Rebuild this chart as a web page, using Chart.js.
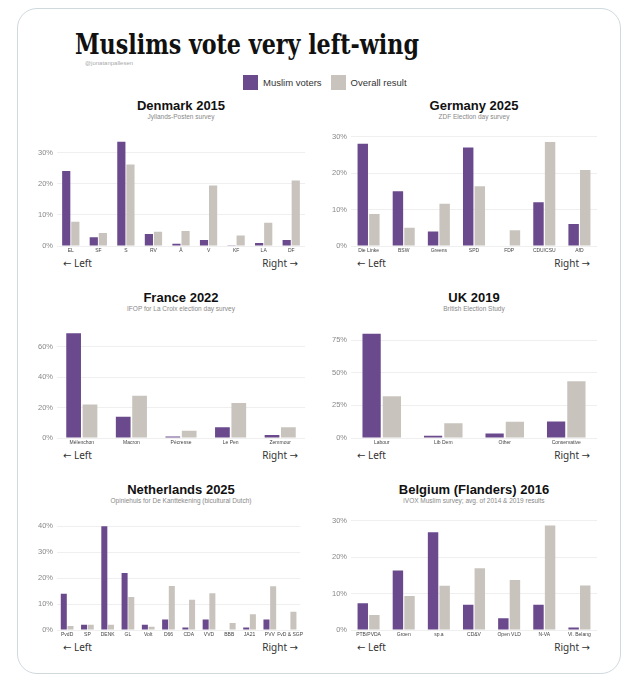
<!DOCTYPE html>
<html lang="en">
<head>
    <meta charset="UTF-8">
    <title>Muslims vote very left-wing</title>
    <script src="https://cdn.jsdelivr.net/npm/chart.js"></script>
    <style>
        body {
            margin: 0;
            width: 630px;
            height: 678px;
            background: #fff;
            font-family: "Liberation Sans", Arial, sans-serif;
            position: relative;
            overflow: hidden;
        }
        .frame {
            position: absolute;
            left: 17px;
            top: 8px;
            width: 602px;
            height: 664px;
            border: 1px solid #cfd9de;
            border-radius: 20px;
        }
        .main-title {
            position: absolute;
            left: 75px;
            top: 30px;
            font-family: "DejaVu Serif", serif;
            font-weight: bold;
            font-size: 27px;
            line-height: 30px;
            color: #111;
            white-space: nowrap;
            transform-origin: 0 0;
        }
        .handle {
            position: absolute;
            left: 85px;
            top: 59px;
            font-size: 6px;
            line-height: 8px;
            color: #aaa;
        }
        .legend {
            position: absolute;
            top: 75px;
            left: 243px;
            display: flex;
            align-items: center;
            font-size: 9.5px;
            color: #333;
        }
        .legend .sw {
            width: 15px;
            height: 15px;
            margin-right: 5px;
        }
        .legend .item {
            display: flex;
            align-items: center;
            margin-right: 9px;
        }
        .p-title {
            position: absolute;
            text-align: center;
            font-weight: bold;
            font-size: 13px;
            line-height: 15px;
            color: #111;
            white-space: nowrap;
        }
        .p-sub {
            position: absolute;
            text-align: center;
            font-size: 6.5px;
            line-height: 8px;
            color: #888;
            white-space: nowrap;
        }
        .p-chart {
            position: absolute;
        }
        .p-dir {
            position: absolute;
            display: flex;
            justify-content: space-between;
            font-family: "Noto Sans", "DejaVu Sans", sans-serif;
            font-size: 10px;
            line-height: 12px;
            color: #333;
        }
    </style>
</head>
<body>
    <div class="frame"></div>
    <div class="main-title" id="mainTitle">Muslims vote very left-wing</div>
    <div class="handle">@jonatanpallesen</div>
    <div class="legend">
        <div class="item"><div class="sw" style="background:#6a4a8c"></div>Muslim voters</div>
        <div class="item"><div class="sw" style="background:#c8c3bd"></div>Overall result</div>
    </div>
    <div id="panels"></div>

    <script>
        // Denmark 2015
        const dkParties = ['EL', 'SF', 'S', 'RV', 'Å', 'V', 'KF', 'LA', 'DF'];
        const dkMuslim = [24.2, 2.8, 33.6, 3.9, 0.7, 1.9, 0.1, 1.0, 1.9];
        const dkOverall = [7.8, 4.2, 26.3, 4.6, 4.8, 19.5, 3.4, 7.5, 21.1];

        // Germany 2025
        const deParties = ['Die Linke', 'BSW', 'Greens', 'SPD', 'FDP', 'CDU/CSU', 'AfD'];
        const deMuslim = [28, 15, 4, 27, 0, 12, 6];
        const deOverall = [8.8, 5.0, 11.6, 16.4, 4.3, 28.5, 20.8];

        // France 2022
        const frCandidates = ['Mélenchon', 'Macron', 'Pécresse', 'Le Pen', 'Zemmour'];
        const frMuslim = [69, 14, 1, 7, 2];
        const frOverall = [22.0, 27.8, 4.8, 23.1, 7.0];

        // UK 2019
        const ukParties = ['Labour', 'Lib Dem', 'Other', 'Conservative'];
        const ukMuslim = [80, 1.7, 3.5, 12.7];
        const ukOverall = [32.1, 11.4, 12.5, 43.6];

        // Netherlands 2025
        const nlParties = ['PvdD', 'SP', 'DENK', 'GL', 'Volt', 'D66', 'CDA', 'VVD', 'BBB', 'JA21', 'PVV', 'FvD & SGP'];
        const nlMuslim = [14, 2, 40, 22, 2, 4, 1, 4, 0, 1, 4, 0];
        const nlOverall = [1.5, 2.0, 2.0, 12.7, 1.3, 17.0, 11.7, 14.2, 2.7, 6.1, 16.9, 7.0];

        // Belgium (Flanders) 2016
        const beParties = ['PTB/PVDA', 'Groen', 'sp.a', 'CD&V', 'Open VLD', 'N-VA', 'Vl. Belang'];
        const beMuslim = [7.3, 16.3, 26.8, 6.9, 3.2, 6.9, 0.7];
        const beOverall = [4.1, 9.3, 12.1, 16.9, 13.7, 28.6, 12.2];

        const PURPLE = '#6a4a8c';
        const GREY = '#c8c3bd';

        // squeeze the serif headline to the reference width
        const mt = document.getElementById('mainTitle');
        mt.style.transform = 'scaleX(' + (344 / mt.getBoundingClientRect().width) + ')';

        const panels = [
            { title: 'Denmark 2015', sub: 'Jyllands-Posten survey', labels: dkParties, muslim: dkMuslim, overall: dkOverall, max: 35.3, step: 10, col: 0, row: 0 },
            { title: 'Germany 2025', sub: 'ZDF Election day survey', labels: deParties, muslim: deMuslim, overall: deOverall, max: 30, step: 10, col: 1, row: 0 },
            { title: 'France 2022', sub: 'IFOP for La Croix election day survey', labels: frCandidates, muslim: frMuslim, overall: frOverall, max: 72.1, step: 20, col: 0, row: 1 },
            { title: 'UK 2019', sub: 'British Election Study', labels: ukParties, muslim: ukMuslim, overall: ukOverall, max: 84, step: 25, col: 1, row: 1 },
            { title: 'Netherlands 2025', sub: 'Opiniehuis for De Kanttekening (bicultural Dutch)', labels: nlParties, muslim: nlMuslim, overall: nlOverall, max: 42.2, step: 10, col: 0, row: 2 },
            { title: 'Belgium (Flanders) 2016', sub: 'iVOX Muslim survey; avg. of 2014 & 2019 results', labels: beParties, muslim: beMuslim, overall: beOverall, max: 30, step: 10, col: 1, row: 2 }
        ];

        // plot area geometry
        const colLeft = [57, 351];
        const colRight = [305, 597];
        const rowTop = [133, 325, 517];
        const plotH = 113;
        const axisW = 32;

        const holder = document.getElementById('panels');

        panels.forEach(function(p) {
            const L = colLeft[p.col], R = colRight[p.col], T = rowTop[p.row];

            const t = document.createElement('div');
            t.className = 'p-title';
            t.style.left = L + 'px';
            t.style.width = (R - L) + 'px';
            t.style.top = (T - 35) + 'px';
            t.textContent = p.title;
            holder.appendChild(t);

            const s = document.createElement('div');
            s.className = 'p-sub';
            s.style.left = L + 'px';
            s.style.width = (R - L) + 'px';
            s.style.top = (T - 20) + 'px';
            s.textContent = p.sub;
            holder.appendChild(s);

            const wrap = document.createElement('div');
            wrap.className = 'p-chart';
            wrap.style.left = (L - axisW) + 'px';
            wrap.style.top = (T - 5) + 'px';
            wrap.style.width = (R - L + axisW) + 'px';
            wrap.style.height = (plotH + 5 + 10) + 'px';
            const cv = document.createElement('canvas');
            wrap.appendChild(cv);
            holder.appendChild(wrap);

            const d = document.createElement('div');
            d.className = 'p-dir';
            d.style.left = (L + 6) + 'px';
            d.style.width = (R - L - 13) + 'px';
            d.style.top = (T + 124) + 'px';
            d.innerHTML = '<span>\u2190 Left</span><span>Right \u2192</span>';
            holder.appendChild(d);

            new Chart(cv.getContext('2d'), {
                type: 'bar',
                data: {
                    labels: p.labels,
                    datasets: [
                        { label: 'Muslim voters', data: p.muslim, backgroundColor: PURPLE },
                        { label: 'Overall result', data: p.overall, backgroundColor: GREY }
                    ]
                },
                options: {
                    responsive: true,
                    maintainAspectRatio: false,
                    animation: false,
                    layout: { padding: { top: 5, right: 0, bottom: 0, left: 0 } },
                    datasets: {
                        bar: { categoryPercentage: 0.66, barPercentage: 0.9 }
                    },
                    scales: {
                        x: {
                            grid: { display: false, drawTicks: false },
                            border: { display: false },
                            ticks: {
                                font: { family: 'Liberation Sans', size: 5 },
                                color: '#444',
                                padding: 2,
                                maxRotation: 0,
                                autoSkip: false
                            },
                            afterFit: function(scale) { scale.height = 10; }
                        },
                        y: {
                            min: 0,
                            max: p.max,
                            border: { display: false },
                            grid: { color: '#ebebeb', lineWidth: 0.8, drawTicks: false },
                            ticks: {
                                stepSize: p.step,
                                includeBounds: false,
                                padding: 4,
                                font: { family: 'Liberation Sans', size: 7.5 },
                                color: '#888',
                                callback: function(v) { return v + '%'; }
                            },
                            afterFit: function(scale) { scale.width = axisW; }
                        }
                    },
                    plugins: {
                        legend: { display: false },
                        tooltip: { enabled: false },
                        title: { display: false }
                    }
                }
            });
        });
    </script>
</body>
</html>
